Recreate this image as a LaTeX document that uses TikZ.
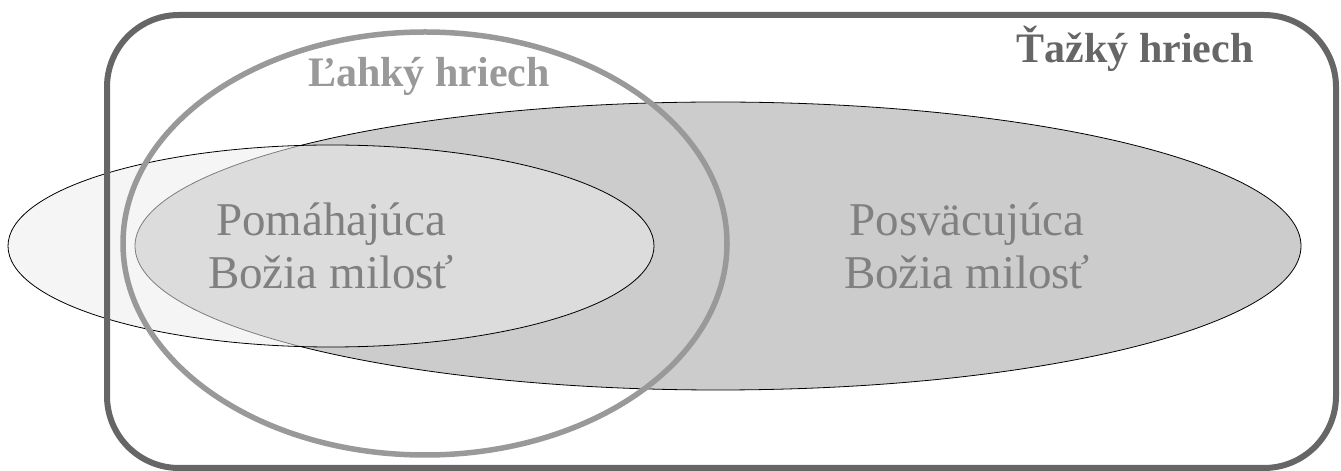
\documentclass[tikz,border=0pt]{standalone}
\usepackage{fontspec}
\setmainfont{Liberation Serif}
\usepackage{tikz}

\definecolor{rimgray}{HTML}{666666}
\definecolor{ringgray}{HTML}{999999}
\definecolor{textgray}{HTML}{808080}
\definecolor{fillgray}{HTML}{CCCCCC}
\definecolor{palegray}{HTML}{ECECEC}

\begin{document}
\begin{tikzpicture}[x=1pt,y=1pt,
    grace/.style={text=textgray, align=center, inner sep=0pt, font=\fontsize{47}{53}\selectfont},
    sin/.style={anchor=base, inner sep=0pt, font=\fontsize{42}{48}\selectfont\bfseries}]
    \useasboundingbox (0,0) rectangle (1341,471);
    \draw[fill=fillgray, line width=0.8pt](718,225) ellipse [x radius=583pt, y radius=144pt];
    \draw[fill=palegray, fill opacity=0.53, line width=0.8pt](331,225) ellipse [x radius=323pt, y radius=101pt];
    \draw[ringgray, line width=5.5pt](425,227.5) ellipse [x radius=302pt, y radius=211.5pt];
    \draw[rimgray, line width=6pt, rounded corners=72pt](107,3) rectangle (1336,456);
    \node[grace] (helping) at (331,225) {Pomáhajúca\\Božia milosť};
    \node[grace] (sanctifying) at (967,225) {Posväcujúca\\Božia milosť};
    \node[sin, text=ringgray] (venial) at (429,384) {Ľahký hriech};
    \node[sin, text=rimgray] (mortal) at (1135,408) {Ťažký hriech};
\end{tikzpicture}
\end{document}
